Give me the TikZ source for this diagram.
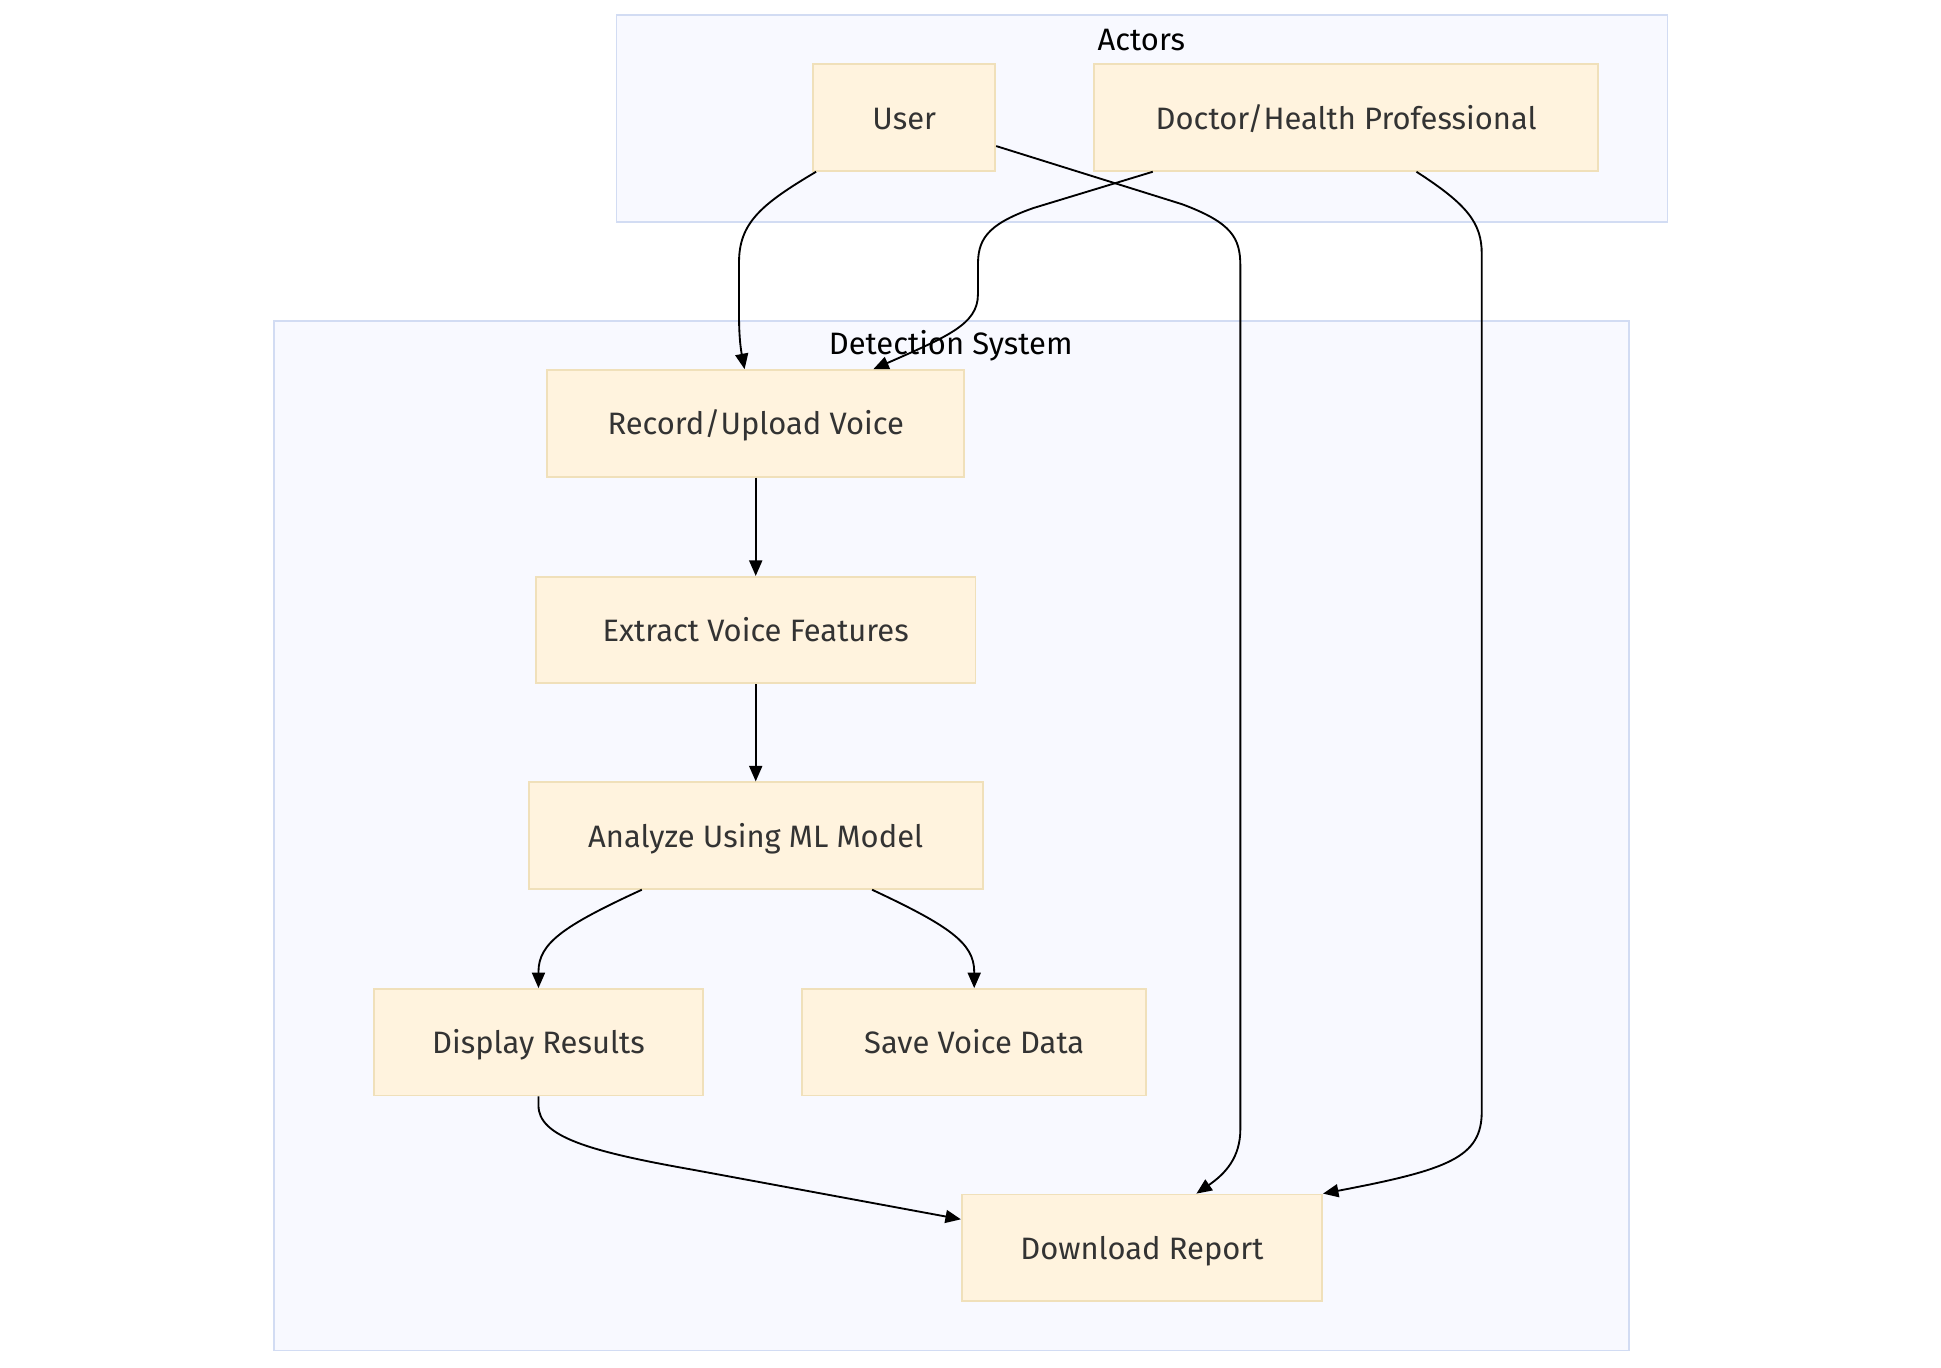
\documentclass[tikz,border=0pt]{standalone}
\usepackage{fontspec}
\setmainfont{Fira Sans}
\usetikzlibrary{arrows.meta,calc}
\definecolor{clusterfill}{RGB}{248,249,255}
\definecolor{clusterline}{RGB}{210,220,243}
\definecolor{boxfill}{RGB}{255,243,222}
\definecolor{boxline}{RGB}{240,224,186}
\definecolor{boxtext}{RGB}{51,51,51}
\begin{document}
\begin{tikzpicture}[x=.4pt, y=-.4pt,
    cluster/.style={draw=clusterline, fill=clusterfill, line width=.6pt},
    clusterlabel/.style={font=\fontsize{10}{12}\selectfont, text=black, inner sep=0pt},
    procbox/.style={draw=boxline, fill=boxfill, line width=.6pt, text=boxtext,
        font=\fontsize{10}{12}\selectfont, minimum height=34.4pt, inner sep=0pt,
        text height=8pt, text depth=.6pt},
    flow/.style={line width=.6pt, -{Triangle[length=5pt, width=4.2pt]}}]
    \useasboundingbox (0,0) rectangle (1568,1105);
    % clusters
    \draw[cluster] (498,12) rectangle (1347,179);
    \draw[cluster] (221,259) rectangle (1316,1091);
    \node[clusterlabel] (actorslabel) at (922,32) {Actors};
    \node[clusterlabel] (systemlabel) at (768,279) {Detection System};
    % nodes
    \node[procbox, minimum width=58.8pt] (user) at (730.5,95) {User};
    \node[procbox, minimum width=162.8pt] (doctor) at (1087.5,95) {Doctor/Health Professional};
    \node[procbox, minimum width=134.8pt] (record) at (610.5,342) {Record/Upload Voice};
    \node[procbox, minimum width=142pt] (extract) at (610.5,509) {Extract Voice Features};
    \node[procbox, minimum width=146.8pt] (analyze) at (610.5,675) {Analyze Using ML Model};
    \node[procbox, minimum width=106.4pt] (display) at (435,842) {Display Results};
    \node[procbox, minimum width=111.2pt] (save) at (787,842) {Save Voice Data};
    \node[procbox, minimum width=116.4pt] (download) at (922.5,1008) {Download Report};
    % connectors
    \draw[flow] ($(user.south west)+(3,0)$)
        .. controls (615,165) and (597,180) .. (597,212) -- (597,255)
        .. controls (597,275) and (599,285) .. ($(record.north)+(-9,0)$);
    \draw[flow] ($(user.east)+(0,23)$) -- (955,165)
        .. controls (995,180) and (1002,192) .. (1002,215) -- (1002,912)
        .. controls (1002,935) and (990,948) .. ($(download.north)+(44,0)$);
    \draw[flow] ($(doctor.south west)+(48,0)$) -- (835,168)
        .. controls (795,182) and (790,195) .. (790,215) -- (790,238)
        .. controls (790,262) and (765,272) .. ($(record.north)+(95,0)$);
    \draw[flow] ($(doctor.south west)+(261,0)$)
        .. controls (1185,165) and (1197,180) .. (1197,205) -- (1197,898)
        .. controls (1197,935) and (1170,945) .. (download.north east);
    \draw[flow] (record) -- (extract);
    \draw[flow] (extract) -- (analyze);
    \draw[flow] ($(analyze.south)+(-92,0)$)
        .. controls (455,748) and (435,762) .. (435,785) -- (display.north);
    \draw[flow] ($(analyze.south)+(94,0)$)
        .. controls (767,748) and (787,762) .. (787,785) -- (save.north);
    \draw[flow] (display.south) -- (435,893)
        .. controls (435,918) and (475,930) .. (560,945) -- ($(download.west)+(0,-23)$);
\end{tikzpicture}
\end{document}
